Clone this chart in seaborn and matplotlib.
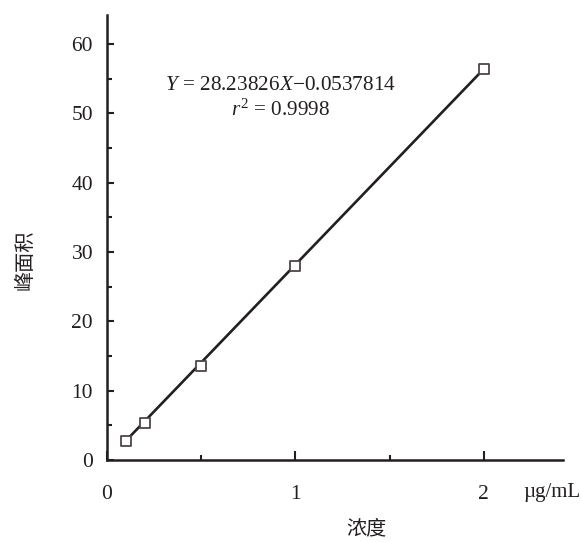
import matplotlib
matplotlib.use("Agg")
import matplotlib.pyplot as plt
from matplotlib.ticker import FixedLocator, NullFormatter
import numpy as np
import pandas as pd
import seaborn as sns

# Calibration standards: concentration (µg/mL) and measured peak area
concentration = [0.1, 0.2, 0.5, 1.0, 2.0]
peak_area = [2.74, 5.3, 13.6, 28.0, 56.4]

# Linear regression reported for the calibration curve
slope = 28.23826
intercept = -0.0537814
r_squared = 0.9998

x_major = [1, 2]
x_minor = [0.5, 1.5]
x_labels = ["0", "1", "2"]
y_major = [0, 10, 20, 30, 40, 50, 60]
y_minor = [5, 15, 25, 35, 45, 55]

points = pd.DataFrame({"conc": concentration, "area": peak_area})
fit_x = np.array([concentration[0], concentration[-1]])
fit = pd.DataFrame({"conc": fit_x, "area": slope * fit_x + intercept})

sns.set_theme(style="ticks")
plt.rcParams["font.family"] = ["Liberation Serif", "DejaVu Serif"]
plt.rcParams["mathtext.fontset"] = "custom"
plt.rcParams["mathtext.rm"] = "Liberation Serif"
plt.rcParams["mathtext.it"] = "Liberation Serif:italic"
plt.rcParams["axes.unicode_minus"] = True

ink = "#231f20"
fig = plt.figure(figsize=(5.81, 5.42), dpi=100)
ax = fig.add_axes([107 / 581, 82 / 542, 456 / 581, 445 / 542])

sns.lineplot(data=fit, x="conc", y="area", ax=ax, color=ink, linewidth=1.9, zorder=2)
sns.scatterplot(data=points, x="conc", y="area", ax=ax, marker="s", s=62,
                facecolor="white", edgecolor="#4d4646", linewidth=1.3, zorder=3)

ax.set_xlim(0, 2.42)
ax.set_ylim(0, 64.2)

for side in ("top", "right"):
    ax.spines[side].set_visible(False)
for side in ("left", "bottom"):
    ax.spines[side].set_linewidth(1.8)
    ax.spines[side].set_color(ink)

# x axis: labelled ticks at 0, 1, 2 placed well below the axis
ax.xaxis.set_major_locator(FixedLocator([0] + x_major))
ax.set_xticklabels(x_labels)
ax.xaxis.set_minor_locator(FixedLocator(x_minor))
ax.xaxis.set_minor_formatter(NullFormatter())
ax.yaxis.set_major_locator(FixedLocator(y_major))
ax.yaxis.set_minor_locator(FixedLocator(y_minor))

ax.tick_params(axis="x", which="major", direction="in", length=6.5, width=1.5,
               color=ink, labelsize=15.5, pad=18, labelcolor=ink)
ax.tick_params(axis="x", which="minor", direction="in", length=3.5, width=1.5, color=ink)
ax.tick_params(axis="y", which="major", direction="in", length=5, width=1.5,
               color=ink, labelsize=15.5, pad=10, labelcolor=ink)
ax.tick_params(axis="y", which="minor", direction="in", length=3.5, width=1.5, color=ink)

cjk = ["Noto Sans CJK SC", "DejaVu Sans"]
ax.set_xlabel("浓度", family=cjk, fontsize=14.5, color=ink, fontweight="light")
ax.xaxis.label.set_va("center")
ax.xaxis.set_label_coords(0.568, -0.155)
ax.set_ylabel("峰面积", family=cjk, fontsize=14.5, color=ink, fontweight="light")
ax.yaxis.label.set_va("center")
ax.yaxis.set_label_coords(-0.18, 0.449)

fig.text(523 / 581, 1 - 493 / 542, "µg/mL", ha="left", va="center",
         fontsize=15, color=ink)

ax.text(0.923, 54.0, f"$Y$ = {slope}$X$\u2212{abs(intercept)}", ha="center", va="center",
        fontsize=15.3, color=ink)
ax.text(0.923, 50.5, f"$r^2$ = {r_squared}", ha="center", va="center",
        fontsize=15.3, color=ink)

fig.savefig("out.png", dpi=100, facecolor="white")
